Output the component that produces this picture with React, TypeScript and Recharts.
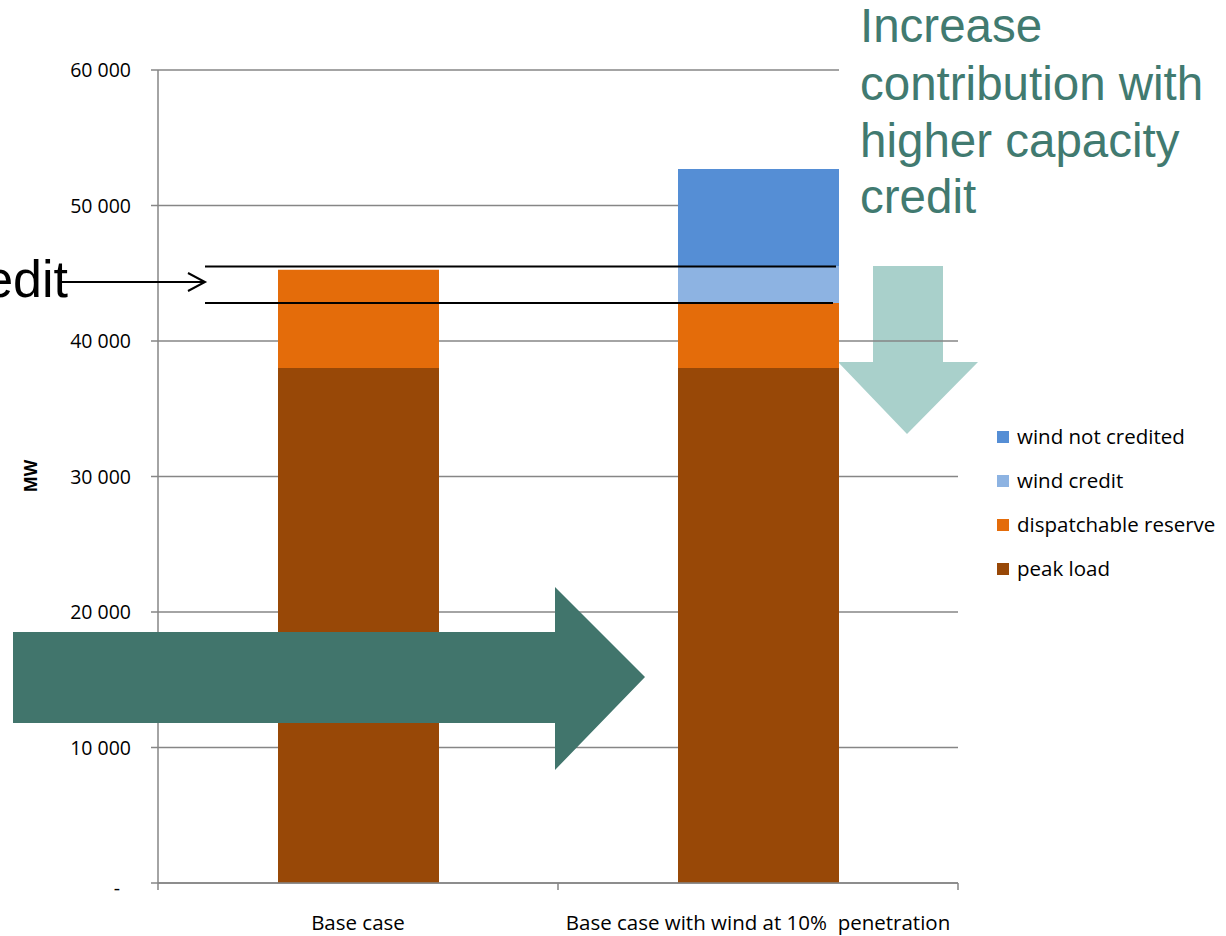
import React from 'react';
import { BarChart, Bar, XAxis, YAxis, CartesianGrid } from 'recharts';

// chart values (MW)
const categories = ['Base case', 'Base case with wind at 10%\u00a0 penetration'];
const peakLoad = [38000, 38000];
const dispatchableReserve = [7250, 4800];
const windCredit = [0, 2700];
const windNotCredited = [0, 7200];
const yTicks = [0, 10000, 20000, 30000, 40000, 50000, 60000];
const yMax = 60000;

const series = [
  { key: 'peak', name: 'peak load', color: '#984807', values: peakLoad },
  { key: 'reserve', name: 'dispatchable reserve', color: '#E46C0A', values: dispatchableReserve },
  { key: 'credit', name: 'wind credit', color: '#8DB3E2', values: windCredit },
  { key: 'notCredited', name: 'wind not credited', color: '#558ED5', values: windNotCredited },
];

const data = categories.map((name, i) => {
  const row: any = { name };
  series.forEach(s => (row[s.key] = s.values[i]));
  return row;
});

const W = 1226;
const H = 936;
const PLOT = { left: 158, right: 958, top: 70, bottom: 883 };
const yPix = (v: number) => PLOT.bottom - (v / yMax) * (PLOT.bottom - PLOT.top);
const GRID = '#868686';
const FONT = '"Open Sans", sans-serif';
const ARIAL = '"Liberation Sans", Arial, sans-serif';

const fmt = (v: number) => (v === 0 ? '-' : String(v).replace(/\B(?=(\d{3})+(?!\d))/g, ' '));

const YTick = (props: any) => {
  const { x, y, payload } = props;
  const zero = payload.value === 0;
  return (
    <text x={zero ? x - 11 : x} y={zero ? y + 12 : y + 7} textAnchor="end" fontSize={19.5} fontFamily={FONT} fill="#000">
      {fmt(payload.value)}
    </text>
  );
};

const XTick = (props: any) => {
  const { x, y, payload } = props;
  return (
    <text x={x} y={y + 39} textAnchor="middle" fontSize={20.5} fontFamily={FONT} fill="#000" style={{ whiteSpace: 'pre' }}>
      {payload.value}
    </text>
  );
};

export default function App() {
  // annotation levels come from the second bar's stack
  const creditTop = peakLoad[1] + dispatchableReserve[1] + windCredit[1];
  const reserveTop = peakLoad[1] + dispatchableReserve[1];
  const band = (PLOT.right - PLOT.left) / categories.length;

  return (
    <div style={{ position: 'absolute', left: 0, top: 0, width: W, height: H, background: '#fff', overflow: 'hidden' }}>
      {/* light arrow sits behind the chart */}
      <svg width={W} height={H} style={{ position: 'absolute', left: 0, top: 0 }}>
        <polygon points="873,266 943,266 943,362 978,362 907,434 838,362 873,362" fill="#A9D0CB" />
      </svg>

      <div style={{ position: 'absolute', left: 0, top: 0 }}>
        <BarChart width={W} height={H} data={data} margin={{ top: PLOT.top, right: W - PLOT.right, bottom: 13, left: 0 }}>
          <CartesianGrid horizontal vertical={false} stroke={GRID} strokeWidth={1.5} />
          <XAxis dataKey="name" interval={0} tickLine={false} axisLine={{ stroke: GRID, strokeWidth: 1.5 }} height={40} tick={<XTick />} />
          <YAxis
            domain={[0, yMax]}
            ticks={yTicks}
            width={PLOT.left}
            tickSize={7}
            tickMargin={20}
            tickLine={{ stroke: GRID, strokeWidth: 1.5 }}
            axisLine={{ stroke: GRID, strokeWidth: 1.5 }}
            tick={<YTick />}
          />
          {series.map(s => (
            <Bar key={s.key} dataKey={s.key} name={s.name} stackId="a" fill={s.color} barSize={161} isAnimationActive={false} />
          ))}
        </BarChart>
      </div>

      {/* overlay annotations */}
      <svg width={W} height={H} style={{ position: 'absolute', left: 0, top: 0 }}>
        {categories.concat(['']).map((_, i) => (
          <line key={i} x1={PLOT.left + i * band} x2={PLOT.left + i * band} y1={PLOT.bottom} y2={PLOT.bottom + 7} stroke={GRID} strokeWidth={1.5} />
        ))}

        <text transform="translate(37,476) rotate(-90)" textAnchor="middle" fontSize={17} fontWeight="bold" fontFamily={FONT} fill="#000">
          MW
        </text>

        <rect x={839} y={0} width={W - 839} height={238} fill="#fff" />
        <text fontFamily={ARIAL} fontSize={47.5} fill="#417A70">
          <tspan x={860} y={42}>Increase</tspan>
          <tspan x={860} y={100}>contribution with</tspan>
          <tspan x={860} y={157}>higher capacity</tspan>
          <tspan x={860} y={213}>credit</tspan>
        </text>

        <line x1={205} x2={836} y1={yPix(creditTop)} y2={yPix(creditTop)} stroke="#000" strokeWidth={2} />
        <line x1={205} x2={833} y1={yPix(reserveTop)} y2={yPix(reserveTop)} stroke="#000" strokeWidth={2} />

        <text x={68} y={297} textAnchor="end" fontFamily={ARIAL} fontSize={52} fill="#000">
          Wind credit
        </text>
        <line x1={60} x2={204} y1={282} y2={282} stroke="#000" strokeWidth={2} />
        <polyline points="188,273 205,282 188,291" fill="none" stroke="#000" strokeWidth={2} />

        <polygon points="13,632 555,632 555,587 645,677 555,770 555,723 13,723" fill="#41756C" />

        {/* legend, top series first */}
        {series.slice().reverse().map((s, i) => {
          const cy = 437 + i * 44;
          return (
            <g key={s.key}>
              <rect x={997} y={cy - 6} width={12} height={12} fill={s.color} />
              <text x={1017} y={cy + 7} fontSize={20.5} fontFamily={FONT} fill="#000">
                {s.name}
              </text>
            </g>
          );
        })}
      </svg>
    </div>
  );
}
